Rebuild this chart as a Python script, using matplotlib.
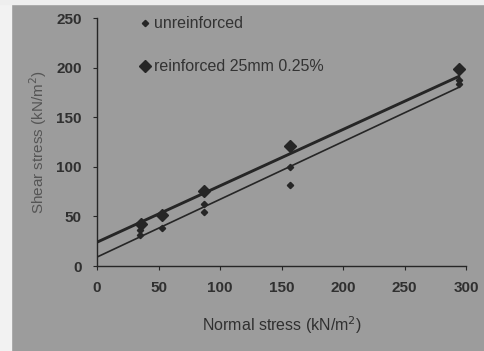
import matplotlib.pyplot as plt
from matplotlib.patches import Rectangle

# data
unreinf_x = [35, 35, 53, 87, 87, 157, 157, 294, 294]
unreinf_y = [31, 36, 38, 62, 54, 100, 82, 187, 183]
reinf_x = [36, 53, 87, 157, 294]
reinf_y = [42, 51, 76, 121, 199]

# trend lines (end points)
fit_x = [0, 294]
unreinf_fit = [9, 180]
reinf_fit = [24, 191]

xticks = [0, 50, 100, 150, 200, 250, 300]
yticks = [0, 50, 100, 150, 200, 250]

bg = "#9c9c9c"
ink = "#262626"

plt.rcParams['font.family'] = ['Liberation Sans', 'DejaVu Sans']

fig = plt.figure(figsize=(4.84, 3.51), dpi=100, facecolor=bg)
fig.patches.append(Rectangle((0, 0), 11 / 484, 1, transform=fig.transFigure,
                             color="#f2f2f2", zorder=0))
fig.patches.append(Rectangle((0, 1 - 4 / 351), 1, 4 / 351, transform=fig.transFigure,
                             color="#eeeeee", zorder=0))

ax = fig.add_axes([97 / 484, 85 / 351, 369 / 484, 248 / 351])
ax.set_facecolor(bg)

ax.plot(fit_x, unreinf_fit, color=ink, lw=1.2)
ax.plot(fit_x, reinf_fit, color=ink, lw=2.1)
ax.plot(unreinf_x, unreinf_y, 'D', color=ink, ms=3.2, ls='none', label="unreinforced")
ax.plot(reinf_x, reinf_y, 'D', color=ink, ms=6.5, ls='none', label="reinforced 25mm 0.25%")

ax.set_xlim(0, 300)
ax.set_ylim(0, 250)
ax.set_xticks(xticks)
ax.set_yticks(yticks)
for s in ['top', 'right']:
    ax.spines[s].set_visible(False)
for s in ['left', 'bottom']:
    ax.spines[s].set_color(ink)
    ax.spines[s].set_linewidth(1.0)
ax.tick_params(colors=ink, labelsize=11, length=3, width=0.8, pad=8)
for lab in ax.get_xticklabels() + ax.get_yticklabels():
    lab.set_color("#303030")
    lab.set_fontweight('bold')

ax.set_xlabel("Normal stress (kN/m$^2$)", fontsize=11.5, color="#303030", labelpad=14)
ax.set_ylabel("Shear stress (kN/m$^2$)", fontsize=11, color="#555555", labelpad=5)

ax.legend(loc='upper left', bbox_to_anchor=(0.08, 1.065), frameon=False,
          fontsize=11.5, labelspacing=1.75, handlelength=0.5, handletextpad=0.3,
          labelcolor="#333333")

fig.savefig("out.png", dpi=100, facecolor=bg)
